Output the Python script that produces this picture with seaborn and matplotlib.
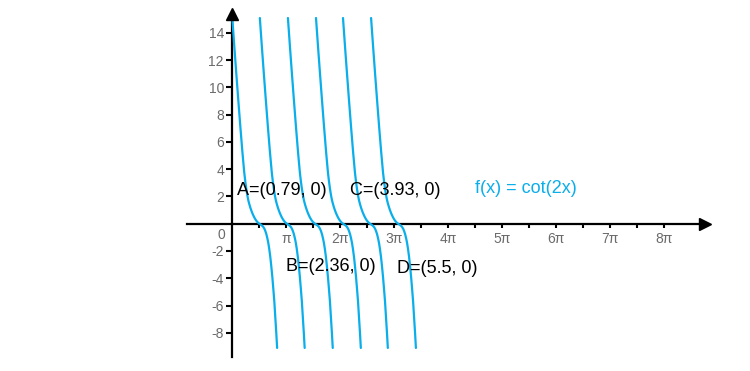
import numpy as np
import pandas as pd
import matplotlib
matplotlib.use('Agg')
import matplotlib.pyplot as plt
import seaborn as sns

# one branch of the curve (x offset in multiples of pi)
branch_dx = [0.000, 0.037, 0.074, 0.111, 0.148, 0.185, 0.204, 0.222, 0.241, 0.259,
             0.278, 0.296, 0.315, 0.333, 0.352, 0.370, 0.389, 0.407, 0.426, 0.444,
             0.463, 0.481, 0.500, 0.519, 0.537, 0.556, 0.574, 0.593, 0.611, 0.630,
             0.648, 0.667, 0.685, 0.704, 0.722, 0.741, 0.759, 0.778, 0.796, 0.815,
             0.830]
branch_y = [15.08, 13.00, 11.00, 9.05, 7.15, 5.35, 4.50, 3.72, 3.08, 2.55,
            2.08, 1.72, 1.43, 1.19, 0.97, 0.78, 0.61, 0.46, 0.33, 0.22,
            0.13, 0.06, 0.00, -0.05, -0.10, -0.16, -0.24, -0.36, -0.53, -0.76,
            -1.05, -1.42, -1.88, -2.45, -3.12, -3.90, -4.75, -5.70, -6.85, -8.05,
            -9.11]
# where each drawn branch starts (multiples of pi)
branch_start = [0, 0.51, 1.03, 1.55, 2.05, 2.57]

point_labels = ['A=(0.79, 0)', 'B=(2.36, 0)', 'C=(3.93, 0)', 'D=(5.5, 0)']
func_label = 'f(x) = cot(2x)'

yticks = [-8, -6, -4, -2, 2, 4, 6, 8, 10, 12, 14]
xticks_major = [1, 2, 3, 4, 5, 6, 7, 8]
xtick_labels = ['π', '2π', '3π', '4π', '5π', '6π', '7π', '8π']
xticks_minor = [0.5, 1.5, 2.5, 3.5, 4.5, 5.5, 6.5, 7.5]

blue = '#0AAEEA'
grey = '#6b6b6b'

sns.set_theme(style='white')
plt.rcParams['font.family'] = ['Liberation Sans', 'DejaVu Sans']
plt.rcParams['axes.unicode_minus'] = False

rows = []
for i, s in enumerate(branch_start):
    for dx, y in zip(branch_dx, branch_y):
        rows.append({'x': (s + dx) * np.pi, 'y': y, 'branch': i})
df = pd.DataFrame(rows)

fig = plt.figure(figsize=(7.5, 3.71), dpi=100)
ax = fig.add_axes([0, 0, 1, 1])
ax.set_facecolor('white')

sns.lineplot(data=df, x='x', y='y', units='branch', estimator=None,
             color=blue, lw=1.6, ax=ax, zorder=3, legend=False)

ax.set_xlim(-4.302 * np.pi, 9.587 * np.pi)
ax.set_ylim(-10.80, 16.40)

# axes through the origin with arrow heads
for side in ['top', 'right']:
    ax.spines[side].set_visible(False)
ax.spines['left'].set_position(('data', 0))
ax.spines['bottom'].set_position(('data', 0))
ax.spines['left'].set_bounds(-9.8, 15.4)
ax.spines['bottom'].set_bounds(-0.833 * np.pi, 8.75 * np.pi)
for side in ['left', 'bottom']:
    ax.spines[side].set_color('black')
    ax.spines[side].set_linewidth(1.6)
ax.plot(8.76 * np.pi, 0, marker='>', ms=9, color='black', clip_on=False, zorder=4)
ax.plot(0, 15.37, marker='^', ms=9, color='black', clip_on=False, zorder=4)

ax.set_yticks(yticks)
ax.set_yticklabels([str(v) for v in yticks])
ax.set_xticks([k * np.pi for k in xticks_major])
ax.set_xticklabels(xtick_labels)
ax.set_xticks([k * np.pi for k in xticks_minor], minor=True)
ax.tick_params(axis='both', which='both', direction='out', color='black',
               width=1.5, labelcolor=grey, labelsize=10)
ax.tick_params(axis='y', length=4, pad=2, left=True)
ax.tick_params(axis='x', which='major', length=3, pad=3, bottom=True)
ax.tick_params(axis='x', which='minor', length=3, bottom=True)
ax.set_xlabel('')
ax.set_ylabel('')
ax.text(-0.21 * np.pi, -0.8, '0', color=grey, fontsize=10, ha='center', va='center')

# labels of the zeros and the function name
label_pos = [(0.087, 2.42), (0.994, -3.15), (2.18, 2.42), (3.05, -3.27)]
for txt, (px, py) in zip(point_labels, label_pos):
    ax.text(px * np.pi, py, txt, fontsize=13, color='black', ha='left', va='center')
ax.text(4.49 * np.pi, 2.6, func_label, fontsize=13, color=blue, ha='left', va='center')

fig.savefig('out.png', dpi=100, facecolor='white')
